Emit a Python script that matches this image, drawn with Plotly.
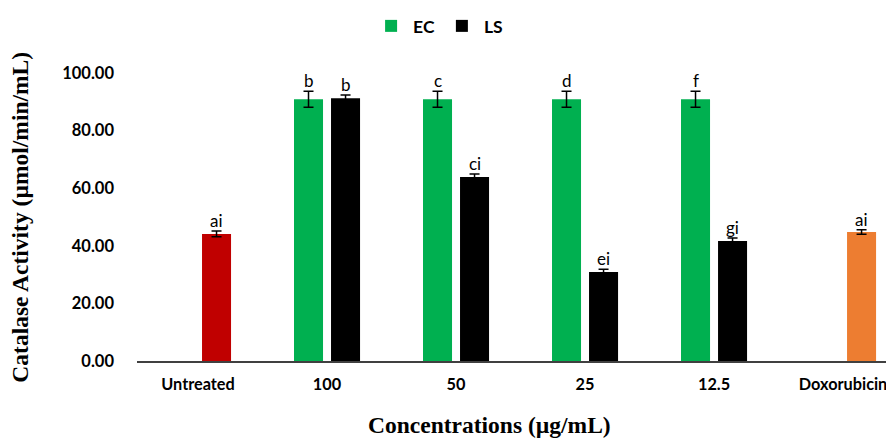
import plotly.graph_objects as go

categories = ["Untreated", "100", "50", "25", "12.5", "Doxorubicin"]
ec_values = [None, 90.9, 90.9, 90.9, 90.9, None]
ec_errors = [None, 2.8, 2.8, 2.8, 2.8, None]
ec_labels = ["", "b", "c", "d", "f", ""]
ls_values = [None, 91.2, 63.9, 30.9, 41.7, None]
ls_errors = [None, 1.2, 1.0, 1.0, 1.0, None]
ls_labels = ["", "b", "ci", "ei", "gi", ""]
ctrl_values = [44.1, None, None, None, None, 44.8]
ctrl_errors = [1.0, None, None, None, None, 0.8]
ctrl_labels = ["ai", "", "", "", "", "ai"]
ctrl_colors = ["#C00000", "#000000", "#000000", "#000000", "#000000", "#ED7D31"]
y_ticks = [0, 20, 40, 60, 80, 100]

x = list(range(len(categories)))
err_style = dict(type="data", thickness=1.5, width=5, color="#000000")

fig = go.Figure()
fig.add_trace(go.Bar(
    x=x, y=ec_values, name="EC", marker=dict(color="#00B050", line=dict(width=0)),
    offsetgroup="a", error_y=dict(array=ec_errors, **err_style)))
fig.add_trace(go.Bar(
    x=x, y=ls_values, name="LS", marker=dict(color="#000000", line=dict(width=0)),
    offsetgroup="b", error_y=dict(array=ls_errors, **err_style)))
fig.add_trace(go.Bar(
    x=x, y=ctrl_values, name="Control", showlegend=False,
    marker=dict(color=ctrl_colors, line=dict(width=0)),
    offsetgroup="b", error_y=dict(array=ctrl_errors, **err_style)))

annotations = []
letter_font = dict(family="Lato", size=17, color="#000000")
for i in x:
    if ec_values[i] is not None:
        annotations.append(dict(x=i, y=ec_values[i] + ec_errors[i], xref="x", yref="y",
                                text=ec_labels[i], showarrow=False, yanchor="bottom",
                                xshift=-18.5, yshift=-2, font=letter_font))
    if ls_values[i] is not None:
        annotations.append(dict(x=i, y=ls_values[i] + ls_errors[i], xref="x", yref="y",
                                text=ls_labels[i], showarrow=False, yanchor="bottom",
                                xshift=18.5, yshift=-2, font=letter_font))
    if ctrl_values[i] is not None:
        annotations.append(dict(x=i, y=ctrl_values[i] + ctrl_errors[i], xref="x", yref="y",
                                text=ctrl_labels[i], showarrow=False, yanchor="bottom",
                                xshift=18.5, yshift=-2, font=letter_font))

title_font = dict(family="Liberation Serif", size=23.5, color="#000000", weight="bold")
annotations.append(dict(x=0.465, y=-0.222, xref="paper", yref="paper", xanchor="center",
                        yanchor="middle", text="Concentrations (µg/mL)", showarrow=False,
                        font=title_font))
annotations.append(dict(x=-0.155, y=0.5, xref="paper", yref="paper", textangle=-90,
                        xanchor="center", yanchor="middle",
                        text="Catalase Activity (µmol/min/mL)", showarrow=False, font=title_font))

# page body has an 8px margin, so the figure is drawn 8px smaller and offset
fig.update_layout(
    template="none",
    width=886, height=430,
    margin=dict(l=129, r=0, t=65, b=77, autoexpand=False),
    paper_bgcolor="white", plot_bgcolor="white",
    barmode="group", bargap=0.426, bargroupgap=0.216,
    showlegend=True,
    legend=dict(orientation="h", x=0.486, xref="container", xanchor="center", y=1.0, yref="container",
                yanchor="top", font=dict(family="Lato", size=17.5, color="#000000", weight="bold"),
                itemsizing="constant", traceorder="normal", itemwidth=34),
    annotations=annotations,
)
fig.update_xaxes(
    range=[-0.473, 5.395], tickmode="array", tickvals=x, ticktext=categories,
    showline=True, linecolor="#404040", linewidth=2, showgrid=False, zeroline=False,
    ticks="", tickfont=dict(family="Lato", size=16.3, color="#000000", weight="bold"),
    ticklabelstandoff=7, automargin=False,
)
fig.update_yaxes(
    range=[0, 100], tickmode="array", tickvals=y_ticks,
    ticktext=[f"{v:.2f}" for v in y_ticks],
    showline=False, showgrid=False, zeroline=False, ticks="",
    tickfont=dict(family="Lato", size=16.5, color="#000000", weight="bold"),
    ticklabelstandoff=22, automargin=False,
)

fig.write_html("out.html")
